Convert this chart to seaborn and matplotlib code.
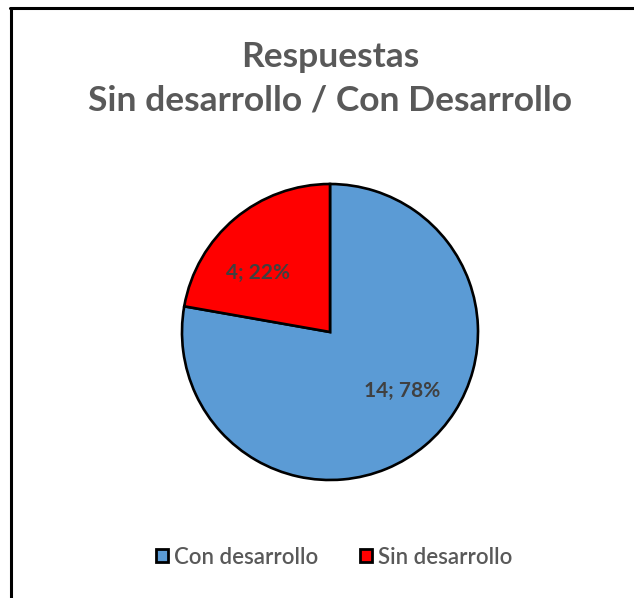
import matplotlib
matplotlib.use("Agg")
import numpy as np
import matplotlib.pyplot as plt
import seaborn as sns
from matplotlib.lines import Line2D
from matplotlib.patches import Patch

categories = ["Con desarrollo", "Sin desarrollo"]
values = [14, 4]
colors = ["#5B9BD5", "#FF0000"]
title_lines = ["Respuestas", "Sin desarrollo / Con Desarrollo"]

sns.set_theme(style="white")
plt.rcParams['font.family'] = ['Lato', 'DejaVu Sans']

W, H = 634, 598
fig = plt.figure(figsize=(W / 100, H / 100), dpi=100)
fig.patch.set_facecolor("white")

cx, cy, r = 330, 332, 148
ax = fig.add_axes([(cx - r) / W, (H - cy - r) / H, 2 * r / W, 2 * r / H])

total = sum(values)

def fmt(p):
    n = int(round(p * total / 100))
    return f"{n}; {p:.0f}%"

wedges, texts, autotexts = ax.pie(
    values, colors=colors, startangle=90, counterclock=False,
    autopct=fmt, pctdistance=0.63,
    wedgeprops=dict(edgecolor="black", linewidth=1.9, clip_on=False),
    textprops=dict(color="#404040", fontsize=15, fontweight="bold"),
    radius=1.0,
)
ax.set_xlim(-1, 1)
ax.set_ylim(-1, 1)
ax.set_aspect("equal")

# place labels like Excel's best-fit: slightly rotated from the wedge middle
for w, t in zip(wedges, autotexts):
    mid = np.deg2rad((w.theta1 + w.theta2) / 2 + 11)
    d = 0.63
    t.set_position((d * np.cos(mid), d * np.sin(mid)))

fig.text(cx / W, 1 - 57 / H, title_lines[0], ha="center", va="center",
         fontsize=25.5, fontweight="bold", color="#595959")
fig.text(cx / W, 1 - 101 / H, title_lines[1], ha="center", va="center",
         fontsize=25.5, fontweight="bold", color="#595959")

handles = [Patch(facecolor=c, edgecolor="black", linewidth=2.0) for c in colors]
leg = fig.legend(handles, categories, loc="center", bbox_to_anchor=(334 / W, 1 - 557 / H),
                 ncol=2, frameon=False, handlelength=0.55, handleheight=0.55,
                 handletextpad=0.25, columnspacing=1.9,
                 prop=dict(size=16, weight="semibold"))
for t in leg.get_texts():
    t.set_color("#595959")

fig.add_artist(Line2D([10 / W, 1], [1 - 8 / H, 1 - 8 / H], color="black", linewidth=2.2,
                      transform=fig.transFigure))
fig.add_artist(Line2D([11 / W, 11 / W], [1 - 8 / H, 0], color="black", linewidth=2.2,
                      transform=fig.transFigure))

fig.savefig("out.png", dpi=100)
